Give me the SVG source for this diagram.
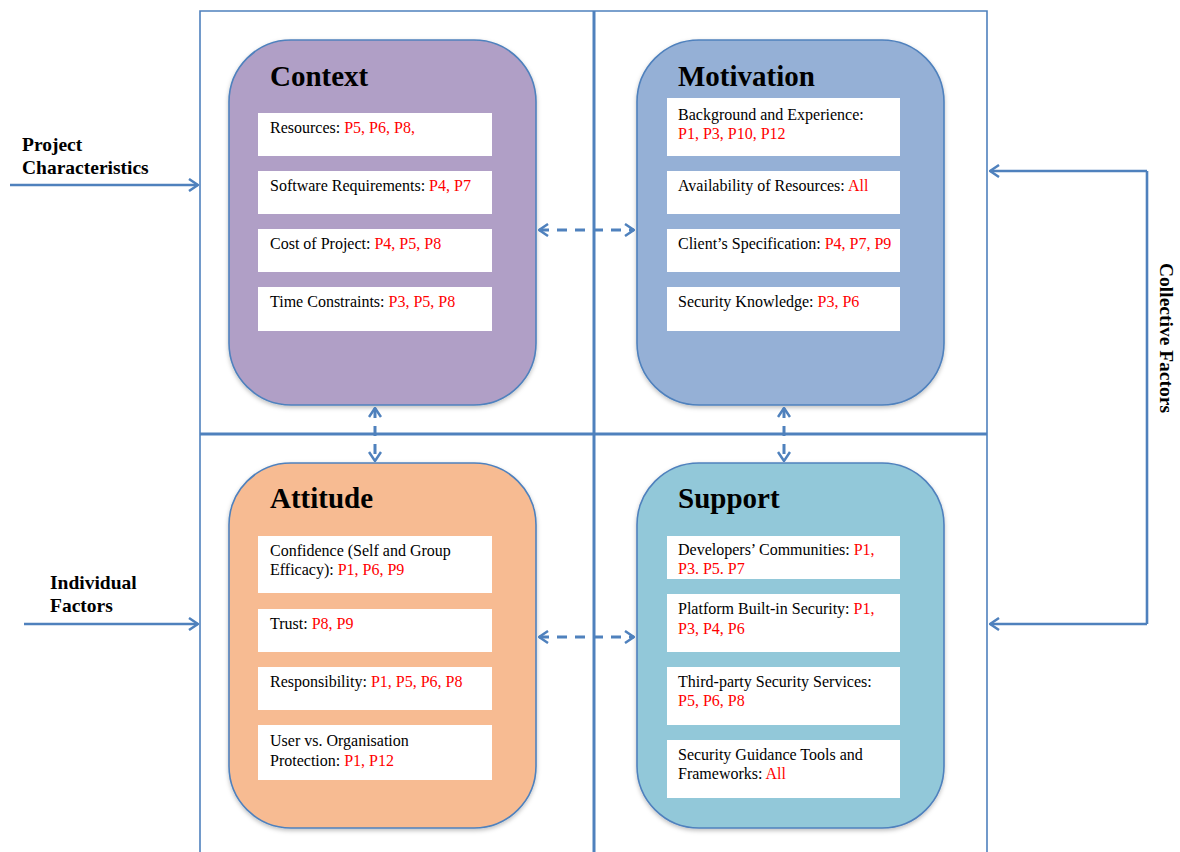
<svg xmlns="http://www.w3.org/2000/svg" width="1180" height="852" viewBox="0 0 1180 852">
  <style>
    .frame { fill: none; stroke: #4f81bd; stroke-width: 1.6; }
    .divider { fill: none; stroke: #4f81bd; stroke-width: 3; }
    .card { stroke: #4f81bd; stroke-width: 1.6; }
    .item { fill: #ffffff; }
    .title { font-family: "Liberation Serif", "Times New Roman", serif; font-weight: bold; font-size: 29px; fill: #000; }
    .txt { font-family: "Liberation Serif", "Times New Roman", serif; font-size: 16px; fill: #000; }
    .ref { fill: #ff0000; }
    .side { font-family: "Liberation Serif", "Times New Roman", serif; font-weight: bold; font-size: 19.5px; fill: #000; }
    .flow { fill: none; stroke: #4f81bd; stroke-width: 2.6; }
    .dash { fill: none; stroke: #4f81bd; stroke-width: 3; stroke-dasharray: 10 8; }
  </style>
  <defs>
    <marker id="chev" viewBox="0 0 11 14" refX="10" refY="7" markerWidth="11" markerHeight="14" markerUnits="userSpaceOnUse" orient="auto-start-reverse">
      <path d="M1,1 L10,7 L1,13" fill="none" stroke="#4f81bd" stroke-width="2.5"/>
    </marker>
    <filter id="shadow" x="-10%" y="-10%" width="120%" height="125%">
      <feDropShadow dx="0" dy="2" stdDeviation="2" flood-color="#000" flood-opacity="0.25"/>
    </filter>
  </defs>

  <rect width="1180" height="852" fill="#ffffff"/>

  <!-- quadrant frame -->
  <g id="frame">
    <path class="frame" d="M200,852 V11 H987 V852"/>
    <line class="divider" x1="594" y1="11" x2="594" y2="852"/>
    <line class="divider" x1="200" y1="434" x2="987" y2="434"/>
  </g>

  <!-- Context -->
  <g id="context">
    <rect class="card" x="229" y="40" width="307" height="365" rx="62" fill="#b09fc6" filter="url(#shadow)"/>
    <text class="title" x="270" y="86">Context</text>
    <rect class="item" x="258" y="113" width="234" height="43"/>
    <text class="txt" x="270" y="133">Resources: <tspan class="ref">P5, P6, P8,</tspan></text>
    <rect class="item" x="258" y="171" width="234" height="43"/>
    <text class="txt" x="270" y="191">Software Requirements: <tspan class="ref">P4, P7</tspan></text>
    <rect class="item" x="258" y="229" width="234" height="43"/>
    <text class="txt" x="270" y="249">Cost of Project: <tspan class="ref">P4, P5, P8</tspan></text>
    <rect class="item" x="258" y="287" width="234" height="44"/>
    <text class="txt" x="270" y="307">Time Constraints: <tspan class="ref">P3, P5, P8</tspan></text>
  </g>

  <!-- Motivation -->
  <g id="motivation">
    <rect class="card" x="637" y="40" width="307" height="365" rx="62" fill="#95b0d6" filter="url(#shadow)"/>
    <text class="title" x="678" y="86">Motivation</text>
    <rect class="item" x="667" y="98" width="233" height="58"/>
    <text class="txt" x="678" y="120">Background and Experience:</text>
    <text class="txt ref" x="678" y="139">P1, P3, P10, P12</text>
    <rect class="item" x="667" y="171" width="233" height="43"/>
    <text class="txt" x="678" y="191">Availability of Resources: <tspan class="ref">All</tspan></text>
    <rect class="item" x="667" y="229" width="233" height="43"/>
    <text class="txt" x="678" y="249">Client’s Specification: <tspan class="ref">P4, P7, P9</tspan></text>
    <rect class="item" x="667" y="287" width="233" height="44"/>
    <text class="txt" x="678" y="307">Security Knowledge: <tspan class="ref">P3, P6</tspan></text>
  </g>

  <!-- Attitude -->
  <g id="attitude">
    <rect class="card" x="229" y="463" width="307" height="365" rx="62" fill="#f7bb92" filter="url(#shadow)"/>
    <text class="title" x="270" y="508">Attitude</text>
    <rect class="item" x="258" y="536" width="234" height="57"/>
    <text class="txt" x="270" y="556">Confidence (Self and Group</text>
    <text class="txt" x="270" y="575">Efficacy): <tspan class="ref">P1, P6, P9</tspan></text>
    <rect class="item" x="258" y="609" width="234" height="43"/>
    <text class="txt" x="270" y="629">Trust: <tspan class="ref">P8, P9</tspan></text>
    <rect class="item" x="258" y="667" width="234" height="43"/>
    <text class="txt" x="270" y="687">Responsibility: <tspan class="ref">P1, P5, P6, P8</tspan></text>
    <rect class="item" x="258" y="725" width="234" height="55"/>
    <text class="txt" x="270" y="746">User vs. Organisation</text>
    <text class="txt" x="270" y="766">Protection: <tspan class="ref">P1, P12</tspan></text>
  </g>

  <!-- Support -->
  <g id="support">
    <rect class="card" x="637" y="463" width="307" height="365" rx="62" fill="#92c8d9" filter="url(#shadow)"/>
    <text class="title" x="678" y="508">Support</text>
    <rect class="item" x="667" y="536" width="233" height="43"/>
    <text class="txt" x="678" y="555">Developers’ Communities: <tspan class="ref">P1,</tspan></text>
    <text class="txt ref" x="678" y="574">P3. P5. P7</text>
    <rect class="item" x="667" y="594" width="233" height="58"/>
    <text class="txt" x="678" y="614">Platform Built-in Security: <tspan class="ref">P1,</tspan></text>
    <text class="txt ref" x="678" y="634">P3, P4, P6</text>
    <rect class="item" x="667" y="667" width="233" height="58"/>
    <text class="txt" x="678" y="687">Third-party Security Services:</text>
    <text class="txt ref" x="678" y="706">P5, P6, P8</text>
    <rect class="item" x="667" y="740" width="233" height="58"/>
    <text class="txt" x="678" y="760">Security Guidance Tools and</text>
    <text class="txt" x="678" y="779">Frameworks: <tspan class="ref">All</tspan></text>
  </g>

  <!-- side labels -->
  <g id="project-characteristics">
    <text class="side" x="22" y="151">Project</text>
    <text class="side" x="22" y="174">Characteristics</text>
  </g>
  <g id="individual-factors">
    <text class="side" x="50" y="589">Individual</text>
    <text class="side" x="50" y="612">Factors</text>
  </g>
  <g id="collective-factors">
    <text class="side" x="0" y="0" transform="translate(1160,338) rotate(90)" text-anchor="middle">Collective Factors</text>
  </g>

  <!-- connectors -->
  <g id="connectors">
    <line class="flow" x1="10" y1="185" x2="198" y2="185" marker-end="url(#chev)"/>
    <line class="flow" x1="24" y1="624" x2="198" y2="624" marker-end="url(#chev)"/>
    <path class="flow" d="M1147,171 V624"/>
    <line class="flow" x1="1147" y1="171" x2="990" y2="171" marker-end="url(#chev)"/>
    <line class="flow" x1="1147" y1="624" x2="990" y2="624" marker-end="url(#chev)"/>

    <line class="dash" x1="539" y1="230" x2="634" y2="230" marker-start="url(#chev)" marker-end="url(#chev)"/>
    <line class="dash" x1="539" y1="637" x2="634" y2="637" marker-start="url(#chev)" marker-end="url(#chev)"/>
    <line class="dash" x1="375" y1="408" x2="375" y2="461" marker-start="url(#chev)" marker-end="url(#chev)"/>
    <line class="dash" x1="784" y1="408" x2="784" y2="461" marker-start="url(#chev)" marker-end="url(#chev)"/>
  </g>
</svg>
